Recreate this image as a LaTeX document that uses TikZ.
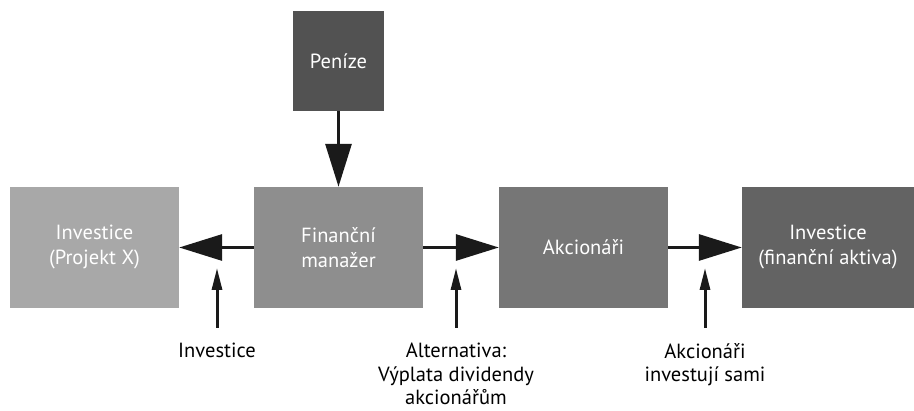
\documentclass[tikz,border=0pt]{standalone}
\usepackage{fontspec}
\setmainfont{PT Sans}
\usetikzlibrary{arrows.meta}
\definecolor{cPen}{HTML}{525252}
\definecolor{cInvX}{HTML}{A8A8A8}
\definecolor{cFin}{HTML}{8E8E8E}
\definecolor{cAkc}{HTML}{767676}
\definecolor{cInvF}{HTML}{636363}
\definecolor{cArr}{HTML}{1A1A1A}
\tikzset{
  box/.style={rectangle, inner sep=0pt, minimum height=121pt, text=white,
    align=center, font=\fontsize{20.5}{25}\selectfont},
  lbl/.style={inner sep=0pt, align=center, text=black, text depth=0pt, font=\fontsize{20.5}{23.5}\selectfont, anchor=north},
  bigarrow/.style={draw=cArr, line width=3pt, -{Triangle[length=43pt,width=26pt]}, fill=cArr},
  smallarrow/.style={draw=cArr, line width=3pt, -{Triangle[length=22pt,width=10pt]}},
}
\begin{document}
\begin{tikzpicture}[x=1pt,y=-1pt]
\useasboundingbox (0,0) rectangle (914,411);
\node[box, fill=cPen, minimum width=91pt, minimum height=100pt] (pen) at (338.5,61) {Peníze};
\node[box, fill=cInvX, minimum width=169pt] (invx) at (94.5,247.5) {Investice\\(Projekt X)};
\node[box, fill=cFin, minimum width=169pt] (fin) at (338.5,247.5) {Finanční\\manažer};
\node[box, fill=cAkc, minimum width=169pt] (akc) at (583.5,247.5) {Akcionáři};
\node[box, fill=cInvF, minimum width=172pt] (invf) at (828,247.5) {Investice\\(finanční aktiva)};
\draw[bigarrow] (pen) -- (fin);
\draw[bigarrow] (fin) -- (invx);
\draw[bigarrow] (fin) -- (akc);
\draw[bigarrow] (akc) -- (invf);
\node[lbl] (l1) at (217,343) {Investice};
\node[lbl] (l2) at (456,343) {Alternativa:\\Výplata dividendy\\akcionářům};
\node[lbl] (l3) at (705,343) {Akcionáři\\investují sami};
\coordinate (t1) at (217,268);
\coordinate (t2) at (456,268);
\coordinate (t3) at (705,268);
\coordinate (b1) at (217,328);
\coordinate (b2) at (456,328);
\coordinate (b3) at (705,328);
\draw[smallarrow] (b1) -- (t1);
\draw[smallarrow] (b2) -- (t2);
\draw[smallarrow] (b3) -- (t3);
\end{tikzpicture}
\end{document}
